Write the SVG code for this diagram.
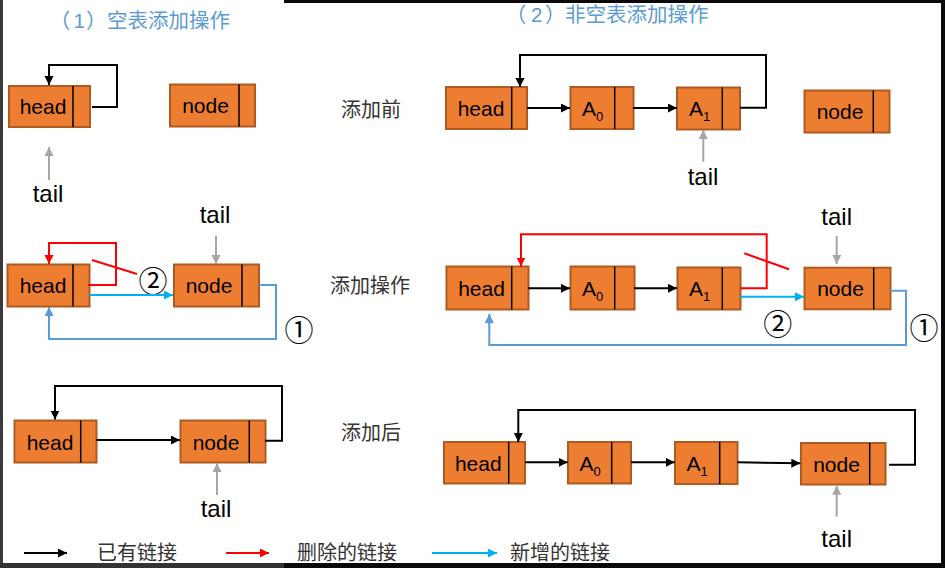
<svg xmlns="http://www.w3.org/2000/svg" width="945" height="568" viewBox="0 0 945 568">
<style>
.box{fill:#ED7D31;stroke:#AE5A21;stroke-width:2}
.div{stroke:#000;stroke-width:1.5}
.lbl{font-family:"Liberation Sans",Arial,sans-serif;font-size:21px;fill:#000;text-anchor:middle}
.sub{font-size:13px}
.tail{font-family:"Liberation Sans",Arial,sans-serif;font-size:24px;fill:#000;text-anchor:middle}
.cn{font-family:"Liberation Sans","Noto Sans CJK SC",sans-serif;font-size:20px;fill:#333}
.title{font-family:"Liberation Sans","Noto Sans CJK SC",sans-serif;font-size:20.5px;fill:#5B9BD5}
.num{font-family:"Noto Sans CJK SC",serif;font-size:29px;fill:#000;text-anchor:middle;dominant-baseline:central}
.k{fill:none;stroke:#000;stroke-width:2}
.r{fill:none;stroke:#FF0000;stroke-width:2}
.c{fill:none;stroke:#00B0F0;stroke-width:2}
.b{fill:none;stroke:#5B9BD5;stroke-width:2}
.g{fill:none;stroke:#A6A6A6;stroke-width:2}
</style>
<defs>
<marker id="mk" markerUnits="userSpaceOnUse" markerWidth="10" markerHeight="10" refX="9" refY="4.5" orient="auto"><path d="M0,0 L9,4.5 L0,9 z" fill="#000"/></marker>
<marker id="mr" markerUnits="userSpaceOnUse" markerWidth="10" markerHeight="10" refX="9" refY="4.5" orient="auto"><path d="M0,0 L9,4.5 L0,9 z" fill="#FF0000"/></marker>
<marker id="mc" markerUnits="userSpaceOnUse" markerWidth="10" markerHeight="10" refX="9" refY="4.5" orient="auto"><path d="M0,0 L9,4.5 L0,9 z" fill="#00B0F0"/></marker>
<marker id="mb" markerUnits="userSpaceOnUse" markerWidth="10" markerHeight="10" refX="9" refY="4.5" orient="auto"><path d="M0,0 L9,4.5 L0,9 z" fill="#5B9BD5"/></marker>
<marker id="mg" markerUnits="userSpaceOnUse" markerWidth="10" markerHeight="10" refX="9" refY="4.5" orient="auto"><path d="M0,0 L9,4.5 L0,9 z" fill="#A6A6A6"/></marker>
</defs>
<rect width="945" height="568" fill="#fff"/>
<!-- screenshot frame -->
<rect x="284" y="0" width="661" height="3" fill="#0a0a0a"/>
<rect x="941" y="0" width="4" height="568" fill="#0a0a0a"/>
<rect x="0" y="563" width="284" height="5" fill="#333"/>
<rect x="284" y="563" width="661" height="5" fill="#0a0a0a"/>
<rect x="0" y="0" width="3" height="563" fill="#3a3a3a"/>

<!-- titles and row labels -->
<g id="titles">
<text class="title" y="28"><tspan x="49.7">（</tspan><tspan x="73.5">1</tspan><tspan x="86">）</tspan><tspan x="107">空表添加操作</tspan></text>
<text class="title" y="22"><tspan x="505.7">（</tspan><tspan x="531">2</tspan><tspan x="545">）</tspan><tspan x="565">非空表添加操作</tspan></text>
<text class="cn" x="341" y="117">添加前</text>
<text class="cn" x="330" y="293">添加操作</text>
<text class="cn" x="341" y="440">添加后</text>
</g>

<!-- ===== left: empty list ===== -->
<g id="l1-head"><rect class="box" x="9" y="86" width="81" height="41"/><line class="div" x1="73" y1="86" x2="73" y2="127"/><text class="lbl" x="43" y="113.5">head</text></g>
<g id="l1-node"><rect class="box" x="170" y="84.5" width="85" height="42"/><line class="div" x1="239" y1="84.5" x2="239" y2="126.5"/><text class="lbl" x="205.5" y="112.5">node</text></g>
<g id="l1-tail"><text class="tail" x="48" y="202">tail</text></g>

<g id="l2-head"><rect class="box" x="7.5" y="264.5" width="82" height="42"/><line class="div" x1="73" y1="264.5" x2="73" y2="306.5"/><text class="lbl" x="43" y="293">head</text></g>
<g id="l2-node"><rect class="box" x="174" y="264.5" width="85" height="42"/><line class="div" x1="242" y1="264.5" x2="242" y2="306.5"/><text class="lbl" x="209" y="293">node</text></g>
<g id="l2-tail"><text class="tail" x="215" y="223">tail</text></g>
<g id="l2-nums"><text class="num" x="153" y="279">②</text><text class="num" x="299" y="328">①</text></g>

<g id="l3-head"><rect class="box" x="14.5" y="420.5" width="82" height="42"/><line class="div" x1="80.7" y1="420.5" x2="80.7" y2="462.5"/><text class="lbl" x="50" y="449.5">head</text></g>
<g id="l3-node"><rect class="box" x="180.5" y="420.5" width="85" height="42"/><line class="div" x1="249.3" y1="420.5" x2="249.3" y2="462.5"/><text class="lbl" x="216" y="449.5">node</text></g>
<g id="l3-tail"><text class="tail" x="216" y="517">tail</text></g>

<!-- ===== right: non-empty list ===== -->
<g id="r1-head"><rect class="box" x="446" y="87" width="81" height="42"/><line class="div" x1="511.7" y1="87" x2="511.7" y2="129"/><text class="lbl" x="481" y="115.5">head</text></g>
<g id="r1-a0"><rect class="box" x="570.5" y="87" width="63" height="42"/><line class="div" x1="614.7" y1="87" x2="614.7" y2="129"/><text class="lbl" x="592.5" y="115.5">A<tspan class="sub" dy="5">0</tspan></text></g>
<g id="r1-a1"><rect class="box" x="677" y="87.5" width="63" height="42"/><line class="div" x1="722.3" y1="87.5" x2="722.3" y2="129.5"/><text class="lbl" x="699.5" y="116">A<tspan class="sub" dy="5">1</tspan></text></g>
<g id="r1-node"><rect class="box" x="804.5" y="90.5" width="85" height="42"/><line class="div" x1="873.3" y1="90.5" x2="873.3" y2="132.5"/><text class="lbl" x="840" y="119">node</text></g>
<g id="r1-tail"><text class="tail" x="703" y="185">tail</text></g>

<g id="r2-head"><rect class="box" x="446.5" y="266.5" width="82" height="43"/><line class="div" x1="511.7" y1="266.5" x2="511.7" y2="309.5"/><text class="lbl" x="481.5" y="295.5">head</text></g>
<g id="r2-a0"><rect class="box" x="570.5" y="266.5" width="64" height="43"/><line class="div" x1="614.7" y1="266.5" x2="614.7" y2="309.5"/><text class="lbl" x="592.5" y="295.5">A<tspan class="sub" dy="5">0</tspan></text></g>
<g id="r2-a1"><rect class="box" x="677.5" y="267.5" width="63" height="42"/><line class="div" x1="722.3" y1="267.5" x2="722.3" y2="309.5"/><text class="lbl" x="699.5" y="296">A<tspan class="sub" dy="5">1</tspan></text></g>
<g id="r2-node"><rect class="box" x="804.5" y="267.7" width="86" height="41.6"/><line class="div" x1="873.7" y1="267.7" x2="873.7" y2="309.3"/><text class="lbl" x="840.5" y="296">node</text></g>
<g id="r2-tail"><text class="tail" x="836.7" y="225">tail</text></g>
<g id="r2-nums"><text class="num" x="777.7" y="321.7">②</text><text class="num" x="924" y="326">①</text></g>

<g id="r3-head"><rect class="box" x="444" y="442" width="81" height="41.5"/><line class="div" x1="508.7" y1="442" x2="508.7" y2="483.5"/><text class="lbl" x="478.3" y="470.5">head</text></g>
<g id="r3-a0"><rect class="box" x="568" y="442" width="63" height="41.5"/><line class="div" x1="611.7" y1="442" x2="611.7" y2="483.5"/><text class="lbl" x="590" y="470.5">A<tspan class="sub" dy="5">0</tspan></text></g>
<g id="r3-a1"><rect class="box" x="675" y="442" width="62.5" height="42"/><line class="div" x1="719.7" y1="442" x2="719.7" y2="484"/><text class="lbl" x="697" y="470.5">A<tspan class="sub" dy="5">1</tspan></text></g>
<g id="r3-node"><rect class="box" x="801" y="443" width="84.5" height="41.5"/><line class="div" x1="869.7" y1="443" x2="869.7" y2="484.5"/><text class="lbl" x="836.5" y="472">node</text></g>
<g id="r3-tail"><text class="tail" x="836.7" y="547">tail</text></g>

<!-- legend -->
<g id="legend">
<path class="k" d="M24,553 H67" marker-end="url(#mk)"/>
<text class="cn" x="97" y="560">已有链接</text>
<path class="r" d="M226,553 H269" marker-end="url(#mr)"/>
<text class="cn" x="297" y="560">删除的链接</text>
<path class="c" d="M432,553 H497" marker-end="url(#mc)"/>
<text class="cn" x="510" y="560">新增的链接</text>
</g>

<!-- connectors -->
<g id="connectors">
<path class="k" d="M92,107 H117 V65 H49 V85" marker-end="url(#mk)"/>
<path class="g" d="M49,180 V147" marker-end="url(#mg)"/>
<path class="g" d="M216,236 V264" marker-end="url(#mg)"/>
<path class="r" d="M88,285 H116 V243 H49 V264" marker-end="url(#mr)"/>
<path class="r" d="M92,260 L137,274"/>
<path class="c" d="M89,295 H173" marker-end="url(#mc)"/>
<path class="b" d="M259,285 H276 V339 H49 V307" marker-end="url(#mb)"/>
<path class="k" d="M96,440 H180" marker-end="url(#mk)"/>
<path class="k" d="M265,440.7 H282 V386 H55 V419.5" marker-end="url(#mk)"/>
<path class="g" d="M217,495 V463" marker-end="url(#mg)"/>
<path class="k" d="M527,108 H570" marker-end="url(#mk)"/>
<path class="k" d="M633,108 H677" marker-end="url(#mk)"/>
<path class="k" d="M740,107.7 H766 V55 H520 V87" marker-end="url(#mk)"/>
<path class="g" d="M703.3,161.7 V130" marker-end="url(#mg)"/>
<path class="k" d="M528,288.3 H570" marker-end="url(#mk)"/>
<path class="k" d="M634,288.3 H677" marker-end="url(#mk)"/>
<path class="r" d="M740,288.3 H766.7 V234.3 H521 V266.5" marker-end="url(#mr)"/>
<path class="r" d="M744.3,253.3 L789,269.3"/>
<path class="c" d="M740,296.7 H804" marker-end="url(#mc)"/>
<path class="b" d="M890,290.7 H906 V345 H489.3 V314" marker-end="url(#mb)"/>
<path class="g" d="M836.7,236 V264" marker-end="url(#mg)"/>
<path class="k" d="M525,462.3 H567.7" marker-end="url(#mk)"/>
<path class="k" d="M631,462.3 H674.7" marker-end="url(#mk)"/>
<path class="k" d="M737.3,462.3 L800.3,463.3" marker-end="url(#mk)"/>
<path class="k" d="M889,464.7 H915 V410 H518.3 V442" marker-end="url(#mk)"/>
<path class="g" d="M836.7,516.7 V485.7" marker-end="url(#mg)"/>
</g>
</svg>
